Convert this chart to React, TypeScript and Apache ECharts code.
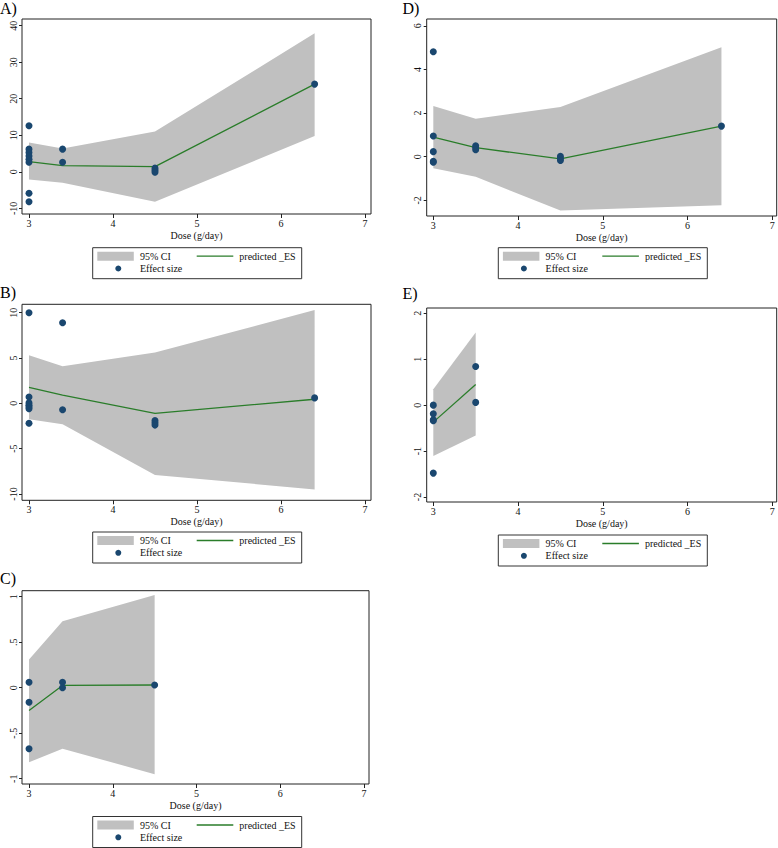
import React, { useEffect, useRef } from 'react';
import * as echarts from 'echarts';

const FONT = '"Liberation Serif", "Times New Roman", serif';
const BAND = '#c0c0c0';
const GREEN = '#2a7d2a';
const NAVY = '#1a476f';
const FRAME = '#222222';

// X ticks shared by all panels
const xTicks = [3, 4, 5, 6, 7];

// Panel A
const doseA = [3, 3.4, 4.5, 6.4];
const upperA = [8.0, 6.4, 11.0, 37.9];
const lowerA = [-2.1, -3.0, -8.2, 9.8];
const predA = [2.8, 1.7, 1.4, 24.0];
const pointsA: [number, number][] = [
  [3, 12.6], [3, 6.2], [3, 5.3], [3, 4.3], [3, 3.4], [3, 2.6], [3, -5.9], [3, -8.2],
  [3.4, 6.2], [3.4, 2.6], [4.5, 1.0], [4.5, 0.4], [4.5, -0.1], [6.4, 24.0],
];
const yTicksA = [-10, 0, 10, 20, 30, 40];

// Panel B
const doseB = [3, 3.4, 4.5, 6.4];
const upperB = [5.3, 4.1, 5.6, 10.3];
const lowerB = [-1.75, -2.3, -7.9, -9.5];
const predB = [1.75, 0.9, -1.1, 0.45];
const pointsB: [number, number][] = [
  [3, 10.0], [3, 0.7], [3, 0.05], [3, -0.2], [3, -0.4], [3, -0.6], [3, -2.2],
  [3.4, 8.9], [3.4, -0.7], [4.5, -1.9], [4.5, -2.15], [4.5, -2.4], [6.4, 0.6],
];
const yTicksB = [-10, -5, 0, 5, 10];

// Panel C
const doseC = [3, 3.4, 4.5];
const upperC = [0.31, 0.73, 1.02];
const lowerC = [-0.82, -0.67, -0.95];
const predC = [-0.25, 0.025, 0.03];
const pointsC: [number, number][] = [
  [3, 0.06], [3, -0.16], [3, -0.67], [3.4, 0.06], [3.4, 0.0], [4.5, 0.03],
];
const yTicksC = [-1, -0.5, 0, 0.5, 1];

// Panel D
const doseD = [3, 3.5, 4.5, 6.4];
const upperD = [2.32, 1.74, 2.28, 5.02];
const lowerD = [-0.53, -0.92, -2.47, -2.23];
const predD = [0.89, 0.41, -0.1, 1.4];
const pointsD: [number, number][] = [
  [3, 4.81], [3, 0.95], [3, 0.23], [3, -0.21], [3, -0.26],
  [3.5, 0.5], [3.5, 0.42], [3.5, 0.32], [4.5, 0.02], [4.5, -0.08], [4.5, -0.18], [6.4, 1.4],
];
const yTicksD = [-2, 0, 2, 4, 6];

// Panel E
const doseE = [3, 3.5];
const upperE = [0.345, 1.58];
const lowerE = [-1.11, -0.66];
const predE = [-0.37, 0.45];
const pointsE: [number, number][] = [
  [3, 0.0], [3, -0.19], [3, -0.32], [3, -0.34], [3, -1.48], [3.5, 0.84], [3.5, 0.06],
];
const yTicksE = [-2, -1, 0, 1, 2];

const legendTexts = ['95% CI', 'predicted _ES', 'Effect size'];
const xTitle = 'Dose (g/day)';

interface Panel {
  label: string;
  dose: number[];
  upper: number[];
  lower: number[];
  pred: number[];
  points: [number, number][];
  yTicks: number[];
  grid: { left: number; top: number; width: number; height: number };
  xRange: [number, number];
  yRange: [number, number];
  labelPos: [number, number];
  legendPos: [number, number];
}

const panels: Panel[] = [
  {
    label: 'A)', dose: doseA, upper: upperA, lower: lowerA, pred: predA, points: pointsA, yTicks: yTicksA,
    grid: { left: 22, top: 19, width: 349, height: 195 }, xRange: [2.917, 7.071], yRange: [-11.56, 41.83],
    labelPos: [0, 0], legendPos: [92.7, 247.7],
  },
  {
    label: 'B)', dose: doseB, upper: upperB, lower: lowerB, pred: predB, points: pointsB, yTicks: yTicksB,
    grid: { left: 22, top: 304.3, width: 349, height: 196 }, xRange: [2.917, 7.071], yRange: [-10.7, 10.93],
    labelPos: [0, 284], legendPos: [92.7, 532],
  },
  {
    label: 'C)', dose: doseC, upper: upperC, lower: lowerC, pred: predC, points: pointsC, yTicks: yTicksC,
    grid: { left: 22, top: 590.7, width: 347, height: 193.3 }, xRange: [2.916, 7.06], yRange: [-1.058, 1.066],
    labelPos: [0, 570], legendPos: [92.7, 816.5],
  },
  {
    label: 'D)', dose: doseD, upper: upperD, lower: lowerD, pred: predD, points: pointsD, yTicks: yTicksD,
    grid: { left: 426.7, top: 19, width: 350, height: 197 }, xRange: [2.922, 7.052], yRange: [-2.72, 6.31],
    labelPos: [402.5, 0], legendPos: [498.3, 247.7],
  },
  {
    label: 'E)', dose: doseE, upper: upperE, lower: lowerE, pred: predE, points: pointsE, yTicks: yTicksE,
    grid: { left: 426.7, top: 308, width: 350, height: 194 }, xRange: [2.922, 7.052], yRange: [-2.109, 2.115],
    labelPos: [402.5, 285], legendPos: [498.3, 535],
  },
];

function fmtStata(v: number): string {
  const s = String(v);
  return s.replace(/^(-?)0\./, '$1.');
}

function buildOption() {
  const grid: any[] = [];
  const xAxis: any[] = [];
  const yAxis: any[] = [];
  const series: any[] = [];
  const graphic: any[] = [];
  const title: any[] = [];

  panels.forEach((p, i) => {
    grid.push({ ...p.grid, show: true, borderColor: FRAME, borderWidth: 1, backgroundColor: '#fff' });
    xAxis.push({
      type: 'value', gridIndex: i, min: p.xRange[0], max: p.xRange[1],
      axisLine: { show: false, onZero: false },
      axisTick: { show: true, inside: false, length: 4, customValues: xTicks, lineStyle: { color: FRAME, width: 1 } },
      axisLabel: { customValues: xTicks, margin: 4, fontFamily: FONT, fontSize: 10, color: '#111' },
      splitLine: { show: false },
      name: xTitle, nameLocation: 'middle', nameGap: 16,
      nameTextStyle: { fontFamily: FONT, fontSize: 10, color: '#111' },
    });
    yAxis.push({
      type: 'value', gridIndex: i, min: p.yRange[0], max: p.yRange[1],
      axisLine: { show: false, onZero: false },
      axisTick: { show: true, inside: false, length: 3, customValues: p.yTicks, lineStyle: { color: FRAME, width: 1 } },
      axisLabel: {
        customValues: p.yTicks, rotate: 90, margin: 4, fontFamily: FONT, fontSize: 10, color: '#111',
        formatter: (v: number) => fmtStata(v),
      },
      splitLine: { show: false },
    });

    const dose = p.dose, upper = p.upper, lower = p.lower;
    series.push({
      type: 'custom', name: legendTexts[0], xAxisIndex: i, yAxisIndex: i, z: 1, silent: true, clip: true,
      data: [[dose[0], upper[0]]],
      renderItem: (params: any, api: any) => {
        if (params.dataIndex !== 0) return null;
        const pts: number[][] = [];
        for (let k = 0; k < dose.length; k++) pts.push(api.coord([dose[k], upper[k]]));
        for (let k = dose.length - 1; k >= 0; k--) pts.push(api.coord([dose[k], lower[k]]));
        return { type: 'polygon', shape: { points: pts }, style: { fill: BAND } };
      },
    });
    series.push({
      type: 'line', name: legendTexts[1], xAxisIndex: i, yAxisIndex: i, z: 3, silent: true,
      data: dose.map((d, k) => [d, p.pred[k]]),
      showSymbol: false, symbol: 'none',
      lineStyle: { color: GREEN, width: 1.3 },
    });
    series.push({
      type: 'scatter', name: legendTexts[2], xAxisIndex: i, yAxisIndex: i, z: 4, silent: true,
      data: p.points, symbol: 'circle', symbolSize: 7,
      itemStyle: { color: NAVY, opacity: 1 },
    });

    title.push({
      text: p.label, left: p.labelPos[0], top: p.labelPos[1], padding: 0,
      textStyle: { fontFamily: FONT, fontSize: 16, fontWeight: 'normal', color: '#000' },
    });

    const [lx, ly] = p.legendPos;
    graphic.push({
      type: 'group', x: lx, y: ly, silent: true,
      children: [
        { type: 'rect', shape: { x: 0, y: 0, width: 209, height: 31 }, style: { fill: '#fff', stroke: '#333', lineWidth: 1 } },
        { type: 'rect', shape: { x: 4.6, y: 4, width: 36.5, height: 9 }, style: { fill: BAND } },
        { type: 'text', x: 47.3, y: 8.5, style: { text: legendTexts[0], font: `10px ${FONT}`, fill: '#111', verticalAlign: 'middle' } },
        { type: 'line', shape: { x1: 104, y1: 8.5, x2: 140.6, y2: 8.5 }, style: { stroke: GREEN, lineWidth: 1.3 } },
        { type: 'text', x: 146.6, y: 8.5, style: { text: legendTexts[1], font: `10px ${FONT}`, fill: '#111', verticalAlign: 'middle' } },
        { type: 'circle', shape: { cx: 25.6, cy: 20.8, r: 3 }, style: { fill: NAVY } },
        { type: 'text', x: 47.3, y: 20.8, style: { text: legendTexts[2], font: `10px ${FONT}`, fill: '#111', verticalAlign: 'middle' } },
      ],
    });
  });

  return {
    animation: false,
    backgroundColor: '#fff',
    title, grid, xAxis, yAxis, series, graphic,
  };
}

export default function App() {
  const ref = useRef<HTMLDivElement>(null);
  useEffect(() => {
    if (!ref.current) return;
    const chart = echarts.init(ref.current, undefined, { renderer: 'svg', width: 778, height: 848 });
    chart.setOption(buildOption() as any);
    return () => chart.dispose();
  }, []);
  return (
    <div
      ref={ref}
      style={{ position: 'absolute', left: 0, top: 0, width: 778, height: 848, background: '#fff' }}
    />
  );
}
